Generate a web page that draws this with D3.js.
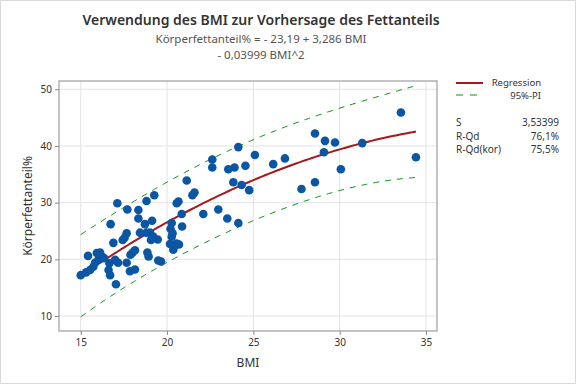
<!DOCTYPE html>
<html>
<head>
<meta charset="utf-8">
<script src="https://cdn.jsdelivr.net/npm/d3@7"></script>
<style>
  body { margin: 0; background: #fff; }
  text { font-family: "Noto Sans", "Open Sans", sans-serif; }
</style>
</head>
<body>
<div id="chart"></div>
<script>
// BMI and body fat values
var bmi = [15.00, 15.31, 15.54, 15.73, 15.83, 16.02, 16.22, 16.35, 15.93, 16.12,
  15.42, 16.66, 16.61, 16.70, 17.04, 16.99, 17.16, 16.73, 16.89, 17.12,
  17.43, 17.54, 17.66, 17.70, 17.66, 17.88, 18.01, 18.14, 17.85, 18.14,
  18.34, 18.34, 18.43, 18.80, 19.01, 18.81, 19.26, 18.72, 19.13, 19.20,
  19.46, 19.07, 18.86, 18.93, 19.49, 19.65, 20.20, 20.27, 20.27, 20.17,
  20.40, 20.55, 20.36, 20.56, 20.66, 20.85, 20.87, 21.14, 21.47, 21.59,
  20.69, 20.32, 22.10, 22.62, 22.62, 22.97, 23.49, 23.55, 23.91, 23.84,
  24.13, 24.13, 24.32, 24.54, 24.76, 25.09, 26.15, 26.83, 27.79, 28.57,
  28.57, 29.09, 29.15, 29.73, 30.07, 31.31, 33.55, 34.42];
var fat = [17.2, 17.7, 18.1, 18.7, 19.4, 19.9, 20.5, 20.2, 21.1, 21.2,
  20.6, 19.3, 18.1, 17.2, 15.6, 19.9, 19.4, 26.2, 22.9, 29.9,
  23.4, 23.8, 24.6, 28.8, 19.4, 20.8, 21.2, 21.6, 17.9, 18.2,
  28.7, 27.2, 24.7, 24.7, 24.7, 30.3, 31.3, 26.2, 26.8, 24.0,
  23.5, 23.4, 21.2, 20.5, 19.8, 19.6, 25.4, 26.4, 24.0, 22.7,
  22.2, 22.8, 21.7, 29.9, 30.2, 28.0, 25.8, 33.9, 31.3, 31.8,
  22.6, 24.6, 28.0, 37.6, 36.2, 28.8, 27.2, 35.9, 36.2, 33.6,
  39.8, 26.4, 33.1, 36.5, 32.2, 38.4, 36.8, 37.8, 32.4, 42.2,
  33.6, 38.9, 40.9, 40.6, 35.9, 40.5, 45.9, 38.0];

// fitted model from the title
var coef = [-23.19, 3.286, -0.03999];
var sFit = 3.53399;
var tCrit = 1.988;

var xTicks = [15, 20, 25, 30, 35];
var yTicks = [10, 20, 30, 40, 50];
var statNames = ["S", "R-Qd", "R-Qd(kor)"];
var statValues = ["3,53399", "76,1%", "75,5%"];

var width = 576, height = 384;
var plot = {left: 59, right: 437, top: 81, bottom: 331};

var svg = d3.select("#chart").append("svg")
  .attr("width", width)
  .attr("height", height);

svg.append("rect")
  .attr("x", 0.5).attr("y", 0.5)
  .attr("width", width - 1).attr("height", height - 1)
  .attr("fill", "#fff")
  .attr("stroke", "#d9d9d9");

var x = d3.scaleLinear().domain([13.74, 35.64]).range([plot.left, plot.right]);
var y = d3.scaleLinear().domain([7.35, 51.46]).range([plot.bottom, plot.top]);

// grid
svg.append("g").selectAll("line")
  .data(xTicks).enter().append("line")
  .attr("x1", function(d) { return x(d); }).attr("x2", function(d) { return x(d); })
  .attr("y1", plot.top).attr("y2", plot.bottom)
  .attr("stroke", "#e3e3e3");
svg.append("g").selectAll("line")
  .data(yTicks).enter().append("line")
  .attr("y1", function(d) { return y(d); }).attr("y2", function(d) { return y(d); })
  .attr("x1", plot.left).attr("x2", plot.right)
  .attr("stroke", "#e3e3e3");

// axes
var xAxis = svg.append("g")
  .attr("transform", "translate(0," + plot.bottom + ")")
  .call(d3.axisBottom(x).tickValues(xTicks).tickSizeInner(4).tickSizeOuter(0).tickPadding(4));
var yAxis = svg.append("g")
  .attr("transform", "translate(" + plot.left + ",0)")
  .call(d3.axisLeft(y).tickValues(yTicks).tickSizeInner(4).tickSizeOuter(0).tickPadding(3));
[xAxis, yAxis].forEach(function(a) {
  a.select(".domain").remove();
  a.selectAll(".tick line").attr("stroke", "#8a8a8a");
  a.selectAll(".tick text").attr("fill", "#333").style("font-size", "10px")
    .style("font-family", "'Noto Sans', sans-serif");
});

svg.append("rect")
  .attr("x", plot.left).attr("y", plot.top)
  .attr("width", plot.right - plot.left).attr("height", plot.bottom - plot.top)
  .attr("fill", "none")
  .attr("stroke", "#8a8a8a");

// prediction interval from the fitted quadratic
var n = bmi.length;
var S = [0, 0, 0, 0, 0];
bmi.forEach(function(v) { for (var k = 0; k < 5; k++) S[k] += Math.pow(v, k); });
var M = [[S[0], S[1], S[2]], [S[1], S[2], S[3]], [S[2], S[3], S[4]]];
function inv3(m) {
  var a = m[0][0], b = m[0][1], c = m[0][2], d = m[1][0], e = m[1][1], f = m[1][2],
      g = m[2][0], h = m[2][1], i = m[2][2];
  var A = e * i - f * h, B = -(d * i - f * g), C = d * h - e * g;
  var det = a * A + b * B + c * C;
  return [[A / det, -(b * i - c * h) / det, (b * f - c * e) / det],
          [B / det, (a * i - c * g) / det, -(a * f - c * d) / det],
          [C / det, -(a * h - b * g) / det, (a * e - b * d) / det]];
}
var Minv = inv3(M);
function fit(v) { return coef[0] + coef[1] * v + coef[2] * v * v; }
function lev(v) {
  var r = [1, v, v * v], s = 0;
  for (var p = 0; p < 3; p++) for (var q = 0; q < 3; q++) s += r[p] * Minv[p][q] * r[q];
  return s;
}

var xs = d3.range(0, 101).map(function(k) {
  return d3.min(bmi) + k * (d3.max(bmi) - d3.min(bmi)) / 100;
});
var curve = xs.map(function(v) {
  var hw = tCrit * sFit * Math.sqrt(1 + lev(v));
  return {x: v, fit: fit(v), lo: fit(v) - hw, hi: fit(v) + hw};
});

var line = function(key) {
  return d3.line().x(function(d) { return x(d.x); }).y(function(d) { return y(d[key]); });
};

["lo", "hi"].forEach(function(k) {
  svg.append("path").datum(curve)
    .attr("d", line(k))
    .attr("fill", "none")
    .attr("stroke", "#11911b")
    .attr("stroke-width", 1)
    .attr("stroke-dasharray", "6,6");
});
svg.append("path").datum(curve)
  .attr("d", line("fit"))
  .attr("fill", "none")
  .attr("stroke", "#a3191e")
  .attr("stroke-width", 2);

// points
svg.append("g").selectAll("circle")
  .data(bmi).enter().append("circle")
  .attr("cx", function(d) { return x(d); })
  .attr("cy", function(d, i) { return y(fat[i]); })
  .attr("r", 4.3)
  .attr("fill", "#0a56a5");

// titles
svg.append("text")
  .attr("x", 261).attr("y", 25)
  .attr("text-anchor", "middle")
  .attr("fill", "#333")
  .style("font-size", "14px").style("font-weight", "600")
  .text("Verwendung des BMI zur Vorhersage des Fettanteils");
svg.append("text")
  .attr("x", 261).attr("y", 43)
  .attr("text-anchor", "middle")
  .attr("fill", "#555")
  .style("font-size", "11.5px")
  .text("Körperfettanteil% = - 23,19 + 3,286 BMI");
svg.append("text")
  .attr("x", 261).attr("y", 59)
  .attr("text-anchor", "middle")
  .attr("fill", "#555")
  .style("font-size", "11.5px")
  .text("- 0,03999 BMI^2");

svg.append("text")
  .attr("x", (plot.left + plot.right) / 2).attr("y", 367)
  .attr("text-anchor", "middle")
  .attr("fill", "#333")
  .style("font-size", "12px")
  .text("BMI");
svg.append("text")
  .attr("transform", "translate(32," + ((plot.top + plot.bottom) / 2) + ") rotate(-90)")
  .attr("text-anchor", "middle")
  .attr("fill", "#333")
  .style("font-size", "12px")
  .text("Körperfettanteil%");

// legend
var leg = svg.append("g");
leg.append("line").attr("x1", 456).attr("x2", 483).attr("y1", 83).attr("y2", 83)
  .attr("stroke", "#a3191e").attr("stroke-width", 2);
leg.append("line").attr("x1", 456).attr("x2", 483).attr("y1", 95).attr("y2", 95)
  .attr("stroke", "#11911b").attr("stroke-dasharray", "7,7");
leg.append("text").attr("x", 541).attr("y", 86).attr("text-anchor", "end")
  .attr("fill", "#333").style("font-size", "9.5px").text("Regression");
leg.append("text").attr("x", 541).attr("y", 99).attr("text-anchor", "end")
  .attr("fill", "#333").style("font-size", "9.5px").text("95%-PI");

var stats = leg.selectAll(".stat").data(statNames).enter().append("g")
  .attr("transform", function(d, i) { return "translate(0," + (126 + i * 13.5) + ")"; });
stats.append("text").attr("x", 456)
  .attr("fill", "#333").style("font-size", "10px")
  .text(function(d) { return d; });
stats.append("text").attr("x", 559).attr("text-anchor", "end")
  .attr("fill", "#333").style("font-size", "10px")
  .text(function(d, i) { return statValues[i]; });
</script>
</body>
</html>
